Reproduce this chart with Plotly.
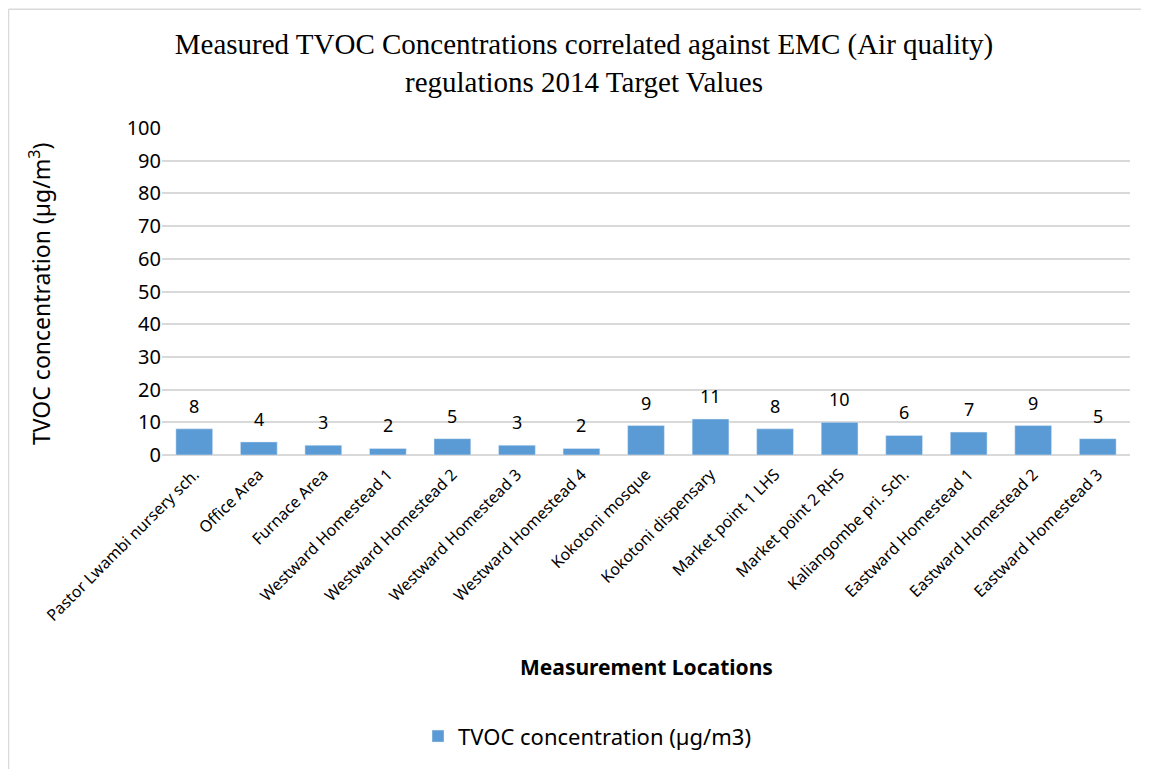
import plotly.graph_objects as go

locations = ["Pastor Lwambi nursery sch.", "Office Area", "Furnace Area", "Westward Homestead 1",
             "Westward Homestead 2", "Westward Homestead 3", "Westward Homestead 4", "Kokotoni mosque",
             "Kokotoni dispensary", "Market point 1 LHS", "Market point 2 RHS", "Kaliangombe pri. Sch.",
             "Eastward Homestead 1", "Eastward Homestead 2", "Eastward Homestead 3"]
tvoc = [8, 4, 3, 2, 5, 3, 2, 9, 11, 8, 10, 6, 7, 9, 5]
y_ticks = [0, 10, 20, 30, 40, 50, 60, 70, 80, 90, 100]

OFF = 8  # page body margin
W, H = 1149 - OFF, 769 - OFF
L, T = 162 - OFF, 128 - OFF
R = W - (1130 - OFF)
B = H - (457 - OFF)
pw, ph = W - L - R, H - T - B

def px(xr):
    return (xr - OFF - L) / pw

def py(yr):
    return (H - B - (yr - OFF)) / ph

sans = "Noto Sans, Open Sans, sans-serif"

fig = go.Figure()
fig.add_trace(go.Bar(
    x=locations, y=tvoc, name="TVOC concentration (µg/m3)",
    marker=dict(color="#5B9BD5"),
))

label_annotations = [
    dict(x=loc, y=v, xref="x", yref="y", text=str(v), showarrow=False,
         yanchor="bottom", yshift=9, font=dict(family=sans, size=18, color="#000000"))
    for loc, v in zip(locations, tvoc)
]

fig.update_layout(
    width=W, height=H,
    margin=dict(l=L, r=R, t=T, b=B),
    paper_bgcolor="white", plot_bgcolor="white",
    bargap=0.43,
    showlegend=True,
    legend=dict(orientation="h", x=px(587), xanchor="center", y=py(740), yanchor="middle",
                font=dict(family=sans, size=22, color="#000000")),
    title=dict(text="Measured TVOC Concentrations correlated against EMC (Air quality)<br>regulations 2014 Target Values",
               xref="paper", x=px(584), xanchor="center",
               yref="container", y=1 - (54 - OFF) / H, yanchor="middle",
               font=dict(family="Liberation Serif, Times New Roman, serif", size=29, color="#000000")),
    xaxis=dict(tickangle=-45, tickfont=dict(family=sans, size=16, color="#000000"),
               showgrid=False, showline=False, ticks="", ticklabelstandoff=6),
    yaxis=dict(range=[0, 100], tickvals=y_ticks, showgrid=True, gridcolor="#D9D9D9", gridwidth=1.5,
               zeroline=True, zerolinecolor="#D9D9D9", zerolinewidth=1.5,
               tickfont=dict(family=sans, size=20, color="#000000"), ticks="", ticklen=0),
    annotations=label_annotations + [
        dict(text="Measurement Locations", xref="paper", yref="paper", x=px(646), y=py(670),
             showarrow=False, font=dict(family=sans, size=21, color="#000000", weight="bold"),
             xanchor="center", yanchor="middle"),
        dict(text="TVOC concentration (µg/m<sup>3</sup>)", xref="paper", yref="paper", x=px(40), y=py(295),
             showarrow=False, textangle=-90, font=dict(family=sans, size=23, color="#000000"),
             xanchor="center", yanchor="middle"),
    ],
    shapes=[
        dict(type="line", xref="paper", yref="paper", x0=px(8.5), x1=px(8.5), y0=py(8.5), y1=py(780),
             line=dict(color="#D9D9D9", width=1.5)),
        dict(type="line", xref="paper", yref="paper", x0=px(8.5), x1=px(1160), y0=py(8.5), y1=py(8.5),
             line=dict(color="#D9D9D9", width=1.5)),
    ],
)

fig.write_html("out.html")
